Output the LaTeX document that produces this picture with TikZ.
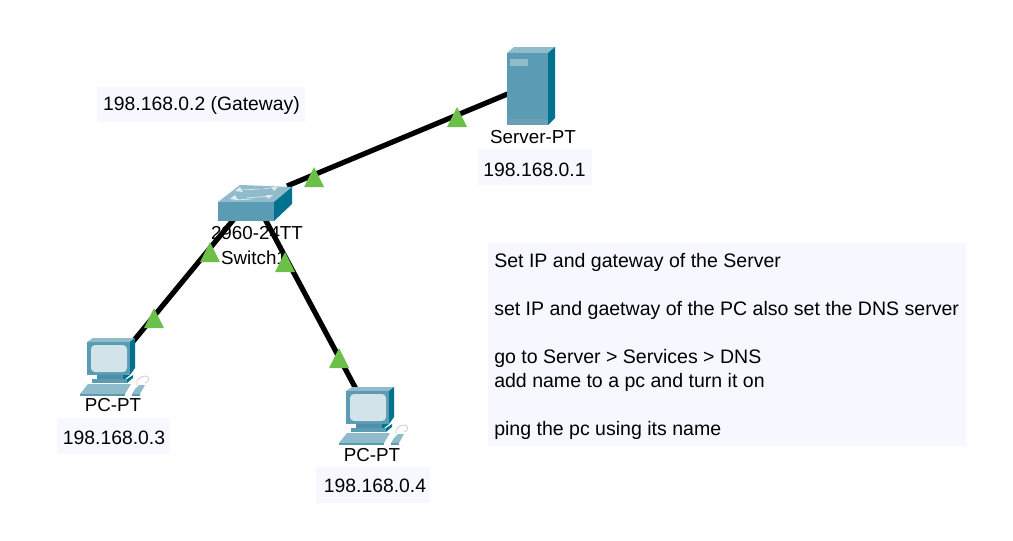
\documentclass[tikz,border=0pt]{standalone}
\usepackage{fontspec}
\setmainfont{Liberation Sans}
\definecolor{boxbg}{HTML}{F7F8FF}
\definecolor{front}{HTML}{5A9CB4}
\definecolor{frontd}{HTML}{4F8FA8}
\definecolor{topf}{HTML}{8FBBCB}
\definecolor{sidef}{HTML}{00718E}
\definecolor{screenf}{HTML}{D3E3EA}
\definecolor{lnk}{HTML}{6CC04A}
\tikzset{
  x=0.75pt,y=-0.75pt,
  link/.style={line width=3.9pt,black},
  lbl/.style={font=\fontsize{14.5}{17}\selectfont,inner sep=0pt,text=black},
  notetxt/.style={font=\fontsize{14.65}{17}\selectfont,inner sep=0pt,text=black,anchor=base west},
  devlbl/.style={font=\fontsize{14.1}{17}\selectfont,inner sep=0pt,text=black},
  tri/.style={fill=lnk,draw=none},
  note/.style={fill=boxbg,draw=none},
  pics/pcicon/.style={code={
    % monitor
    \fill[topf] (2,4) -- (8,0) -- (50,0) -- (45,4) -- cycle;
    \fill[sidef] (45,4) -- (50,0) -- (50,30) -- (45,37) -- cycle;
    \fill[front] (2,4) rectangle (45,37);
    \fill[screenf,rounded corners=3] (6,7) rectangle (42,34);
    % stand
    \fill[frontd] (12,37) rectangle (38,41);
    \fill[sidef] (38,37) -- (45,37) -- (40,41) -- (38,41) -- cycle;
    \fill[front] (7,41) rectangle (42,45);
    \fill[sidef] (42,41) -- (48,37) -- (48,40) -- (42,45) -- cycle;
    % keyboard
    \fill[topf] (-5,56) -- (3,46) -- (46,46) -- (40,56) -- cycle;
    \fill[front] (-5,56) rectangle (40,57.5);
    % mouse
    \fill[topf] (50,51) -- (54,47) -- (60,47) -- (55,56) -- (47,56) -- cycle;
    \fill[front] (47,56) rectangle (55,57.5);
    \draw[gray!45,line width=0.5pt] (52,47) .. controls (50,42) and (56,38) .. (60,38) .. controls (65,38) and (65,44) .. (60,45);
  }}
}
\begin{document}
\begin{tikzpicture}
\useasboundingbox (0,0) rectangle (1013,540);
\fill[white] (0,0) rectangle (1013,540);
% connector ends
\coordinate (srv) at (510,93);
\coordinate (swA) at (287,186);
\coordinate (swB) at (234,219);
\coordinate (swC) at (265,219);
\coordinate (pcA) at (131,344);
\coordinate (pcB) at (356,389);
\draw[link] (srv) -- (swA);
\draw[link] (swB) -- (pcA);
\draw[link] (swC) -- (pcB);
% note backgrounds
\fill[note] (97,87) rectangle (305,122);
\fill[note] (478,149) rectangle (592,185);
\fill[note] (57,418) rectangle (170,454);
\fill[note] (316,467) rectangle (430,503);
\fill[note] (488,243) rectangle (966,446);
% server
\fill[topf] (507,53) -- (514,47) -- (555,47) -- (548,53) -- cycle;
\fill[sidef] (548,53) -- (555,47) -- (555,118) -- (548,125) -- cycle;
\fill[front] (507,53) rectangle (548,125);
\fill[topf] (510,59) rectangle (528,66);
\fill[frontd!85!white] (507,119) rectangle (548,125);
% switch
\fill[topf] (218,202) -- (240,185) -- (292,187) -- (274,202) -- cycle;
\fill[sidef] (274,202) -- (292,187) -- (292,204) -- (274,221) -- cycle;
\fill[front] (218,202) rectangle (274,221);
\foreach \a/\b/\c/\d in {241/190/260/189, 276/187/263/189, 246/198/272/196, 234/200/252/199}
  \draw[white!70!topf,line width=0.5pt] (\a,\b) -- (\c,\d);
\fill[white!70!topf] (278,187) -- (274,191) -- (271,187) -- cycle;
\fill[white!70!topf] (273,195) -- (268,199) -- (266,195) -- cycle;
\fill[white!70!topf] (240,187) -- (235,191) -- (243,192) -- cycle;
\fill[white!70!topf] (235,195) -- (230,199) -- (238,200) -- cycle;
% PCs
\pic at (85,338) {pcicon};
\pic at (344,387) {pcicon};
% labels
\node[devlbl] (lblSrv) at (533,137) {Server-PT};
\node[lbl] (ipSrv) at (534.5,170) {198.168.0.1};
\node[lbl] (ipGw) at (201.5,105.5) {198.168.0.2 (Gateway)};
\node[devlbl] (lblSwA) at (257,233) {2960-24TT};
\node[devlbl] (lblSwB) at (254,258) {Switch1};
\node[devlbl] (lblPcA) at (113,405) {PC-PT};
\node[lbl] (ipPcA) at (114,437.5) {198.168.0.3};
\node[devlbl] (lblPcB) at (372,455) {PC-PT};
\node[lbl] (ipPcB) at (375,485.5) {198.168.0.4};
\node[notetxt] (t1) at (494,267.5) {Set IP and gateway of the Server};
\node[notetxt] (t2) at (494,315.5) {set IP and gaetway of the PC also set the DNS server};
\node[notetxt] (t3) at (494,363.5) {go to Server > Services > DNS};
\node[notetxt] (t4) at (494,387.5) {add name to a pc and turn it on};
\node[notetxt] (t5) at (494,435.5) {ping the pc using its name};
% link lights
\foreach \x/\y in {457/117, 314/177, 210/252, 285/262, 154/318, 339/358}
  \fill[tri] (\x,\y-10) -- (\x+10,\y+10) -- (\x-10,\y+10) -- cycle;
\end{tikzpicture}
\end{document}
